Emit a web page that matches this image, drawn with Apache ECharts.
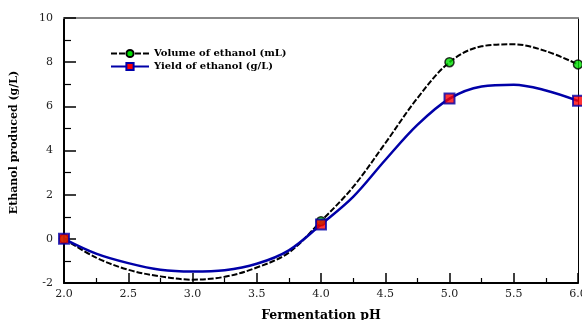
<!DOCTYPE html>
<html>
<head>
<meta charset="utf-8">
<script src="https://cdn.jsdelivr.net/npm/echarts@6/dist/echarts.min.js"></script>
<style>html,body{margin:0;padding:0;background:#fff}#c{width:582px;height:320px}</style>
</head>
<body>
<div id="c"></div>
<script>
// Measured points
var phValues = [2.0, 4.0, 5.0, 6.0];
var volumeValues = [0, 0.8, 8.0, 7.9];
var yieldValues = [0, 0.65, 6.35, 6.25];
// Fitted curve
var curvePh = [2.0, 2.25, 2.5, 2.75, 3.0, 3.25, 3.5, 3.75, 4.0, 4.25, 4.5, 4.75, 5.0, 5.25, 5.5, 5.75, 6.0];
var volumeCurve = [0, -0.85, -1.4, -1.7, -1.85, -1.72, -1.3, -0.62, 0.8, 2.35, 4.33, 6.37, 8.0, 8.72, 8.81, 8.5, 7.9];
var yieldCurve = [0, -0.67, -1.1, -1.4, -1.48, -1.42, -1.13, -0.52, 0.65, 1.9, 3.57, 5.16, 6.35, 6.9, 6.98, 6.72, 6.25];
var xTicks = [2.0, 2.5, 3.0, 3.5, 4.0, 4.5, 5.0, 5.5, 6.0];
var yTicks = [-2, 0, 2, 4, 6, 8, 10];
var seriesNames = ['Volume of ethanol (mL)', 'Yield of ethanol (g/L)'];

function pairs(xs, ys) { return xs.map(function (x, i) { return [x, ys[i]]; }); }

var FONT = 'DejaVu Serif';
var chart = echarts.init(document.getElementById('c'));
chart.setOption({
  animation: false,
  backgroundColor: '#fff',
  grid: { left: 64, right: 4, top: 18, bottom: 37, outerBoundsMode: 'none', containLabel: false },
  legend: {
    orient: 'vertical', left: 105, top: 43,
    itemWidth: 38, itemHeight: 9, itemGap: 2,
    data: seriesNames,
    textStyle: { fontFamily: FONT, fontWeight: 'bold', fontSize: 10, lineHeight: 11, color: '#000' }
  },
  xAxis: [{
    type: 'value', min: xTicks[0], max: xTicks[xTicks.length - 1], interval: 0.5,
    name: 'Fermentation pH', nameLocation: 'middle', nameGap: 26,
    nameTextStyle: { fontFamily: FONT, fontWeight: 'bold', fontSize: 12.5, color: '#000' },
    axisLine: { onZero: false, lineStyle: { color: '#000', width: 2 } },
    axisTick: { inside: true, length: 10, lineStyle: { color: '#000', width: 1.5 } },
    minorTick: { show: true, splitNumber: 2, length: 5, lineStyle: { color: '#000', width: 1.2 } },
    splitLine: { show: false },
    axisLabel: { fontFamily: FONT, fontSize: 11, color: '#222', margin: 6,
      formatter: function (v) { return v.toFixed(1); } }
  }, {
    type: 'value', position: 'top', min: 2, max: 6,
    axisLine: { show: true, onZero: false, lineStyle: { color: '#888', width: 2 } },
    axisTick: { show: false }, axisLabel: { show: false }, splitLine: { show: false }
  }],
  yAxis: [{
    type: 'value', min: yTicks[0], max: yTicks[yTicks.length - 1], interval: 2,
    name: 'Ethanol produced (g/L)', nameLocation: 'middle', nameGap: 44,
    nameTextStyle: { fontFamily: FONT, fontWeight: 'bold', fontSize: 11, color: '#000', padding: [0, 0, 0, 16] },
    axisLine: { show: true, onZero: false, lineStyle: { color: '#000', width: 2 } },
    axisTick: { inside: true, length: 12, lineStyle: { color: '#000', width: 1.5 } },
    minorTick: { show: true, splitNumber: 2, length: 7, lineStyle: { color: '#000', width: 1.2 } },
    splitLine: { show: false },
    axisLabel: { fontFamily: FONT, fontSize: 11, color: '#222', margin: 11 }
  }, {
    type: 'value', position: 'right', min: -2, max: 10,
    axisLine: { show: true, onZero: false, lineStyle: { color: '#000', width: 1 } },
    axisTick: { show: false }, axisLabel: { show: false }, splitLine: { show: false }
  }],
  series: [{
    name: seriesNames[0], type: 'line', smooth: 0.35,
    data: pairs(curvePh, volumeCurve),
    symbol: 'circle', symbolSize: 9, showSymbol: false,
    itemStyle: { color: '#00dd00', borderColor: '#000', borderWidth: 1.5 },
    lineStyle: { color: '#000', width: 2, type: [6, 2] },
    z: 2
  }, {
    name: seriesNames[1], type: 'line', smooth: 0.35,
    data: pairs(curvePh, yieldCurve),
    symbol: 'rect', symbolSize: 9, showSymbol: false,
    itemStyle: { color: '#ff0000', borderColor: '#0000aa', borderWidth: 2 },
    lineStyle: { color: '#0000a8', width: 2.5 },
    z: 2
  }, {
    name: 'volPts', type: 'scatter', data: pairs(phValues, volumeValues),
    symbol: 'circle', symbolSize: 9,
    itemStyle: { color: '#00dd00', borderColor: '#000', borderWidth: 1.5 }, z: 4
  }, {
    name: 'yieldPts', type: 'scatter', data: pairs(phValues, yieldValues),
    symbol: 'rect', symbolSize: 10,
    itemStyle: { color: '#ff0000', borderColor: '#0000aa', borderWidth: 2 }, z: 5
  }]
});
</script>
</body>
</html>
